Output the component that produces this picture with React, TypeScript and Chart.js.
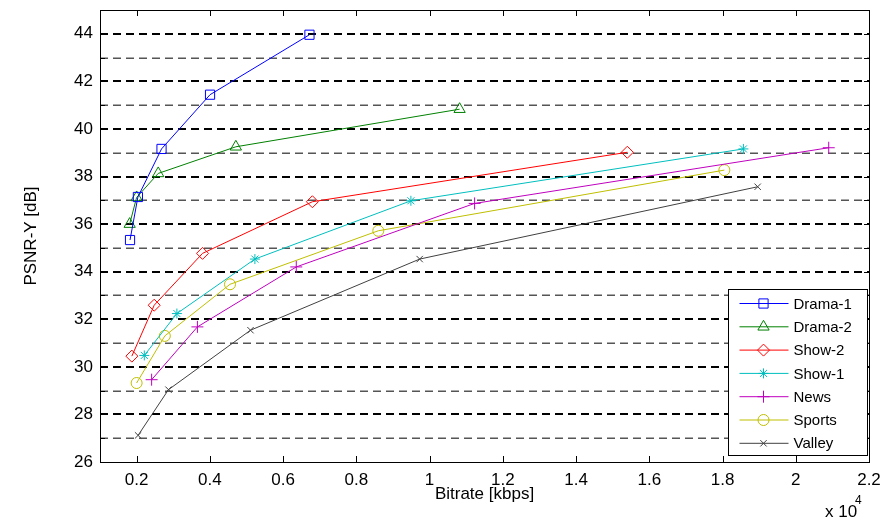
import React, { useEffect, useRef } from 'react';
import { Chart, registerables } from 'chart.js';

Chart.register(...registerables);

const FONT = '"Liberation Sans", Arial, Helvetica, sans-serif';

const seriesNames = ['Drama-1', 'Drama-2', 'Show-2', 'Show-1', 'News', 'Sports', 'Valley'];
const seriesColors = ['#0000FF', '#008000', '#FF0000', '#00BFBF', '#BF00BF', '#BFBF00', '#404040'];
const seriesMarkers = ['rect', 'triangle', 'rectRot', 'star', 'cross', 'circle', 'crossRot'];
const markerRadii = [6.5, 6.5, 6, 5, 6, 5.5, 4.5];

const drama1Bitrate = [1820, 2035, 2680, 4005, 6720];
const drama1Psnr = [35.33, 37.14, 39.16, 41.44, 43.96];
const drama2Bitrate = [1810, 2000, 2590, 4710, 10820];
const drama2Psnr = [36.0, 37.12, 38.13, 39.25, 40.83];
const show2Bitrate = [1870, 2480, 3800, 6800, 15400];
const show2Psnr = [30.45, 32.59, 34.77, 36.94, 39.02];
const show1Bitrate = [2210, 3100, 5230, 9490, 18570];
const show1Psnr = [30.48, 32.24, 34.53, 36.98, 39.16];
const newsBitrate = [2410, 3660, 6360, 11230, 20900];
const newsPsnr = [29.46, 31.68, 34.2, 36.87, 39.21];
const sportsBitrate = [2000, 2770, 4550, 8600, 18050];
const sportsPsnr = [29.32, 31.3, 33.47, 35.72, 38.27];
const valleyBitrate = [2040, 2870, 5110, 9730, 18960];
const valleyPsnr = [27.12, 29.04, 31.54, 34.53, 37.57];

const xTickValues = [2000, 4000, 6000, 8000, 10000, 12000, 14000, 16000, 18000, 20000, 22000];
const yLabelValues = [26, 28, 30, 32, 34, 36, 38, 40, 42, 44];
const yGridValues = [27, 28, 29, 30, 31, 32, 33, 34, 35, 36, 37, 38, 39, 40, 41, 42, 43, 44];

const X_MIN = 1000;
const X_MAX = 22000;
const Y_MIN = 26;
const Y_MAX = 45;

const allBitrates = [drama1Bitrate, drama2Bitrate, show2Bitrate, show1Bitrate, newsBitrate, sportsBitrate, valleyBitrate];
const allPsnr = [drama1Psnr, drama2Psnr, show2Psnr, show1Psnr, newsPsnr, sportsPsnr, valleyPsnr];

function drawMarker(ctx: CanvasRenderingContext2D, style: string, x: number, y: number, r: number) {
  ctx.beginPath();
  switch (style) {
    case 'rect': {
      const s = r * Math.SQRT1_2;
      ctx.rect(x - s, y - s, 2 * s, 2 * s);
      break;
    }
    case 'triangle':
      ctx.moveTo(x, y - r);
      ctx.lineTo(x + r * 0.866, y + r * 0.5);
      ctx.lineTo(x - r * 0.866, y + r * 0.5);
      ctx.closePath();
      break;
    case 'rectRot':
      ctx.moveTo(x - r, y);
      ctx.lineTo(x, y - r);
      ctx.lineTo(x + r, y);
      ctx.lineTo(x, y + r);
      ctx.closePath();
      break;
    case 'circle':
      ctx.arc(x, y, r, 0, Math.PI * 2);
      break;
    case 'cross':
      ctx.moveTo(x, y - r);
      ctx.lineTo(x, y + r);
      ctx.moveTo(x - r, y);
      ctx.lineTo(x + r, y);
      break;
    case 'crossRot': {
      const d = r * Math.SQRT1_2;
      ctx.moveTo(x - d, y - d);
      ctx.lineTo(x + d, y + d);
      ctx.moveTo(x - d, y + d);
      ctx.lineTo(x + d, y - d);
      break;
    }
    case 'star': {
      const d = r * Math.SQRT1_2;
      ctx.moveTo(x, y - r);
      ctx.lineTo(x, y + r);
      ctx.moveTo(x - r, y);
      ctx.lineTo(x + r, y);
      ctx.moveTo(x - d, y - d);
      ctx.lineTo(x + d, y + d);
      ctx.moveTo(x - d, y + d);
      ctx.lineTo(x + d, y - d);
      break;
    }
  }
  ctx.stroke();
}

const matlabAxesPlugin = {
  id: 'matlabAxes',
  beforeDatasetsDraw(chart: any) {
    const ctx: CanvasRenderingContext2D = chart.ctx;
    const { left, right, top, bottom } = chart.chartArea;
    const xs = chart.scales.x;
    const ys = chart.scales.y;
    ctx.save();
    ctx.setLineDash([8, 5]);
    for (const v of yGridValues) {
      const even = v % 2 === 0;
      let py = ys.getPixelForValue(v);
      ctx.lineWidth = even ? 2 : 1.5;
      ctx.strokeStyle = even ? '#000000' : '#555555';
      py = even ? Math.round(py) : Math.round(py) + 0.25;
      ctx.beginPath();
      ctx.moveTo(left, py);
      ctx.lineTo(right, py);
      ctx.stroke();
    }
    ctx.setLineDash([]);
    ctx.strokeStyle = '#000000';
    ctx.lineWidth = 1;
    ctx.beginPath();
    for (const v of xTickValues) {
      const px = Math.round(xs.getPixelForValue(v)) + 0.5;
      ctx.moveTo(px, bottom);
      ctx.lineTo(px, bottom - 6);
      ctx.moveTo(px, top);
      ctx.lineTo(px, top + 6);
    }
    for (const v of yGridValues) {
      const py = Math.round(ys.getPixelForValue(v)) + 0.5;
      ctx.moveTo(left, py);
      ctx.lineTo(left + 5, py);
      ctx.moveTo(right, py);
      ctx.lineTo(right - 5, py);
    }
    ctx.stroke();
    ctx.restore();
  },
  afterDraw(chart: any) {
    const ctx: CanvasRenderingContext2D = chart.ctx;
    const { left, right, top, bottom } = chart.chartArea;
    ctx.save();
    ctx.strokeStyle = '#000000';
    ctx.lineWidth = 1;
    ctx.strokeRect(Math.round(left) + 0.5, Math.round(top) + 0.5, Math.round(right - left), Math.round(bottom - top));

    const bw = 139;
    const bh = 166;
    const bx = Math.round(right - 2 - bw) + 0.5;
    const by = Math.round(bottom - 7 - bh) + 0.5;
    ctx.fillStyle = '#ffffff';
    ctx.fillRect(bx, by, bw, bh);
    ctx.strokeStyle = '#000000';
    ctx.strokeRect(bx, by, bw, bh);
    ctx.font = '15px ' + FONT;
    ctx.textBaseline = 'middle';
    ctx.textAlign = 'left';
    for (let i = 0; i < seriesNames.length; i++) {
      const ry = by + 14 + i * 23.3;
      ctx.strokeStyle = seriesColors[i];
      ctx.lineWidth = 1;
      ctx.beginPath();
      ctx.moveTo(bx + 11, ry);
      ctx.lineTo(bx + 60, ry);
      ctx.stroke();
      drawMarker(ctx, seriesMarkers[i], bx + 35, ry, markerRadii[i]);
      ctx.fillStyle = '#000000';
      ctx.fillText(seriesNames[i], bx + 65, ry + 1);
    }

    ctx.fillStyle = '#000000';
    ctx.textBaseline = 'alphabetic';
    ctx.font = '17px ' + FONT;
    ctx.fillText('x 10', 825, 517);
    ctx.font = '12px ' + FONT;
    ctx.fillText('4', 855, 504);
    ctx.restore();
  },
};

export default function App() {
  const canvasRef = useRef<HTMLCanvasElement | null>(null);

  useEffect(() => {
    if (!canvasRef.current) return;
    const datasets = seriesNames.map((name, i) => ({
      label: name,
      data: allBitrates[i].map((b, j) => ({ x: b, y: allPsnr[i][j] })),
      showLine: true,
      borderColor: seriesColors[i],
      backgroundColor: 'rgba(0,0,0,0)',
      borderWidth: 1,
      pointStyle: seriesMarkers[i] as any,
      pointRadius: markerRadii[i],
      pointBorderWidth: 1,
      pointBorderColor: seriesColors[i],
      pointBackgroundColor: 'rgba(0,0,0,0)',
      tension: 0,
      fill: false,
    }));

    const chart = new Chart(canvasRef.current, {
      type: 'scatter',
      data: { datasets },
      plugins: [matlabAxesPlugin],
      options: {
        responsive: false,
        animation: false,
        devicePixelRatio: 1,
        layout: { padding: { top: 10, right: 16, left: 0, bottom: 0 } },
        plugins: {
          legend: { display: false },
          tooltip: { enabled: false },
        },
        scales: {
          x: {
            type: 'linear',
            position: 'bottom',
            min: X_MIN,
            max: X_MAX,
            grid: { display: false, drawTicks: false },
            border: { display: false },
            afterBuildTicks: (scale: any) => {
              scale.ticks = xTickValues.map((value) => ({ value }));
            },
            afterFit: (scale: any) => {
              scale.height = 59;
              scale.paddingLeft = 0;
              scale.paddingRight = 0;
            },
            ticks: {
              autoSkip: false,
              maxRotation: 0,
              minRotation: 0,
              padding: 8,
              color: '#000000',
              font: { family: FONT, size: 17 },
              callback: (v: any) => String(Number((Number(v) / 10000).toFixed(1))),
            },
            title: {
              display: true,
              text: 'Bitrate [kbps]',
              color: '#000000',
              font: { family: FONT, size: 17 },
              padding: { top: 0, bottom: 16 },
            },
          },
          y: {
            type: 'linear',
            min: Y_MIN,
            max: Y_MAX,
            grid: { display: false, drawTicks: false },
            border: { display: false },
            afterBuildTicks: (scale: any) => {
              scale.ticks = yLabelValues.map((value) => ({ value }));
            },
            afterFit: (scale: any) => {
              scale.width = 100;
              scale.paddingTop = 0;
              scale.paddingBottom = 0;
            },
            ticks: {
              autoSkip: false,
              padding: 7,
              color: '#000000',
              font: { family: FONT, size: 17 },
              callback: (v: any) => String(v),
            },
            title: {
              display: true,
              text: 'PSNR-Y [dB]',
              color: '#000000',
              font: { family: FONT, size: 17 },
              padding: { top: 21, bottom: 0 },
            },
          },
        },
      },
    });
    return () => chart.destroy();
  }, []);

  return (
    <div style={{ position: 'absolute', left: 0, top: 0, width: 885, height: 521, background: '#ffffff' }}>
      <canvas ref={canvasRef} width={885} height={521} style={{ display: 'block' }} />
    </div>
  );
}
